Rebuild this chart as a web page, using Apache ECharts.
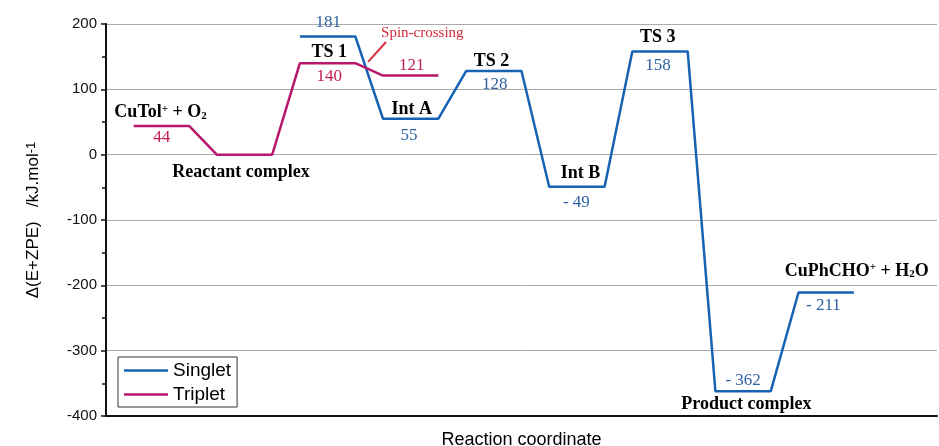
<!DOCTYPE html>
<html>
<head>
<meta charset="utf-8">
<script src="https://cdn.jsdelivr.net/npm/echarts@6/dist/echarts.min.js"></script>
<style>html,body{margin:0;padding:0;background:#fff;}#c{width:939px;height:446px;}</style>
</head>
<body>
<div id="c"></div>
<script>
// ---- data ----
const singletLevels = [181, 55, 128, -49, 158, -362, -211];
const singletFirstSlot = 2;
const tripletLevels = [44, 0, 140, 121];
const tripletFirstSlot = 0;
const stateNames = ['CuTol{sup|+} + O{sub|2}', 'Reactant complex', 'TS 1', 'Int A', 'TS 2', 'Int B', 'TS 3', 'Product complex', 'CuPhCHO{sup|+} + H{sub|2}O'];
const yTicks = [-400, -300, -200, -100, 0, 100, 200];
const spinCrossingText = 'Spin-crossing';

// ---- layout (label anchor positions in axis units) ----
const namePos = [[0.97, 65], [3.87, -26.5], [7.06, 156], [10.04, 70], [12.92, 143], [16.13, -28], [18.92, 179], [22.12, -381.6], [26.1, -178]];
const singletValuePos = [[7.02, 203], [9.94, 28.6], [13.03, 108], [15.98, -74], [18.93, 137], [22.0, -345], [24.9, -231]];
const tripletValuePos = [[1.01, 25.6], null, [7.06, 119], [10.04, 137]];
const spinTextPos = [10.42, 186];
const spinArrow = [[8.46, 142], [9.11, 172.5]];

function profile(levels, firstSlot) {
  const pts = [];
  levels.forEach((v, i) => {
    const s = (firstSlot + i) * 3;
    pts.push([s, v], [s + 2, v]);
  });
  return pts;
}
function fmt(v) { return v < 0 ? '- ' + Math.abs(v) : String(v); }

const SING = '#1662b3', TRIP = '#b8186b';

// text annotations: [x, y], text, style
const texts = [];
stateNames.forEach((t, i) => texts.push({pos: namePos[i], text: t, font: 'bold 18px "Liberation Serif"', fill: '#000'}));
singletLevels.forEach((v, i) => { if (singletValuePos[i]) texts.push({pos: singletValuePos[i], text: fmt(v), font: '17px "Liberation Serif"', fill: '#2f62a3'}); });
tripletLevels.forEach((v, i) => { if (tripletValuePos[i]) texts.push({pos: tripletValuePos[i], text: fmt(v), font: '17px "Liberation Serif"', fill: '#c01e52'}); });
texts.push({pos: spinTextPos, text: spinCrossingText, font: '15px "Liberation Serif"', fill: '#d42a3c'});

const richSS = {
  sup: {fontSize: 11, verticalAlign: 'top', lineHeight: 8, fontFamily: 'Liberation Serif', fontWeight: 'bold', fill: '#000'},
  sub: {fontSize: 11, verticalAlign: 'bottom', lineHeight: 6, fontFamily: 'Liberation Serif', fontWeight: 'bold', fill: '#000'}
};

const chart = echarts.init(document.getElementById('c'));
chart.setOption({
  animation: false,
  backgroundColor: '#fff',
  grid: {left: 106, right: 2, top: 24, bottom: 30, containLabel: false, outerBoundsMode: 'none'},
  legend: {
    data: ['Singlet', 'Triplet'],
    orient: 'vertical', left: 118, top: 357,
    borderColor: '#333', borderWidth: 1,
    padding: [4, 6, 3, 6], itemGap: 5,
    icon: 'rect', itemWidth: 44, itemHeight: 2.5,
    textStyle: {fontFamily: 'Liberation Sans', fontSize: 19, color: '#000'}
  },
  xAxis: {
    type: 'value', min: -1, max: 29,
    axisLine: {show: true, onZero: false, lineStyle: {color: '#111', width: 2}},
    axisTick: {show: false}, axisLabel: {show: false}, splitLine: {show: false},
    name: 'Reaction coordinate', nameLocation: 'middle', nameGap: 15,
    nameTextStyle: {fontFamily: 'Liberation Sans', fontSize: 18, color: '#000'}
  },
  yAxis: {
    type: 'value', min: yTicks[0], max: yTicks[yTicks.length - 1], interval: 100,
    axisLine: {show: true, onZero: false, lineStyle: {color: '#111', width: 2}},
    axisTick: {show: true, length: 5, lineStyle: {color: '#111', width: 1.5}},
    minorTick: {show: true, splitNumber: 2, length: 4, lineStyle: {color: '#111', width: 1.5}},
    axisLabel: {fontFamily: 'Liberation Sans', fontSize: 15, color: '#111', margin: 9},
    splitLine: {show: true, lineStyle: {color: '#aaa', width: 1}},
    name: 'Δ(E+ZPE)   /kJ.mol{sup|-1}', nameLocation: 'middle', nameGap: 64, nameRotate: 90,
    nameTextStyle: {fontFamily: 'Liberation Sans', fontSize: 17, color: '#000',
      rich: {sup: {fontFamily: 'Liberation Sans', fontSize: 13, verticalAlign: 'top', lineHeight: 8, color: '#000'}}}
  },
  series: [
    {name: 'Singlet', type: 'line', data: profile(singletLevels, singletFirstSlot), symbol: 'none', color: SING,
      lineStyle: {color: SING, width: 2.5}},
    {name: 'Triplet', type: 'line', data: profile(tripletLevels, tripletFirstSlot), symbol: 'none', color: TRIP,
      lineStyle: {color: TRIP, width: 2.5}},
    {name: 'arrow', type: 'line', data: spinArrow, symbol: 'none', silent: true,
      lineStyle: {color: '#d8303f', width: 2}},
    {name: 'annotations', type: 'custom', silent: true, clip: false,
      data: texts.map(t => t.pos),
      renderItem: function (params, api) {
        const t = texts[params.dataIndex];
        const p = api.coord([api.value(0), api.value(1)]);
        return {type: 'text', x: p[0], y: p[1], silent: true,
          style: {text: t.text, font: t.font, fill: t.fill, align: 'center', verticalAlign: 'middle', rich: richSS}};
      }}
  ]
});
</script>
</body>
</html>
